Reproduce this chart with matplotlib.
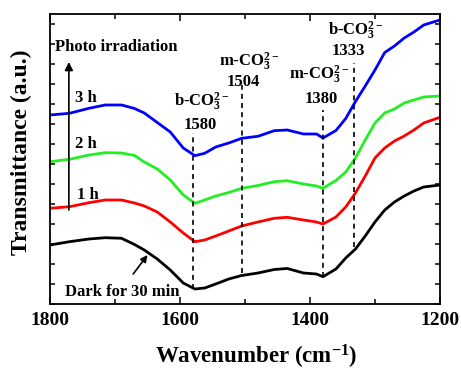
import matplotlib
matplotlib.use('Agg')
import matplotlib.pyplot as plt
from matplotlib.ticker import MultipleLocator, NullFormatter

plt.rcParams['font.family'] = 'Liberation Serif'
plt.rcParams['font.weight'] = 'bold'
plt.rcParams['axes.labelweight'] = 'bold'
plt.rcParams['mathtext.fontset'] = 'custom'
plt.rcParams['mathtext.rm'] = 'Liberation Serif:bold'
plt.rcParams['mathtext.it'] = 'Liberation Serif:bold:italic'
plt.rcParams['mathtext.bf'] = 'Liberation Serif:bold'
plt.rcParams['mathtext.default'] = 'rm'

# wavenumber grid (cm-1)
wn = [1800, 1770, 1740, 1715, 1690, 1670, 1655, 1635, 1615, 1595, 1577, 1562,
      1545, 1525, 1505, 1480, 1455, 1435, 1410, 1390, 1380, 1360, 1345, 1330,
      1315, 1300, 1285, 1270, 1255, 1240, 1225, 1200]

# offset spectra (a.u.)
dark = [2.95, 3.115, 3.25, 3.315, 3.285, 2.975, 2.7, 2.25, 1.7, 1.05, 0.75, 0.8,
        1.0, 1.25, 1.425, 1.55, 1.725, 1.775, 1.55, 1.5, 1.365, 1.75, 2.3, 2.75,
        3.4, 4.1, 4.7, 5.1, 5.4, 5.65, 5.85, 5.95]
h1 = [4.785, 4.865, 5.065, 5.2, 5.2, 5.05, 4.9, 4.6, 4.1, 3.55, 3.115, 3.2,
      3.4, 3.65, 3.9, 4.1, 4.285, 4.335, 4.2, 4.1, 4.0, 4.35, 4.85, 5.55,
      6.4, 7.3, 7.8, 8.15, 8.4, 8.7, 9.05, 9.335]
h2 = [7.115, 7.235, 7.45, 7.565, 7.55, 7.425, 7.1, 6.75, 6.2, 5.45, 5.035, 5.2,
      5.4, 5.575, 5.785, 5.925, 6.115, 6.165, 6.0, 5.9, 5.785, 6.175, 6.6, 7.3,
      8.2, 9.05, 9.55, 9.75, 10.05, 10.2, 10.35, 10.4]
h3 = [9.45, 9.535, 9.785, 9.95, 9.95, 9.775, 9.55, 9.075, 8.6, 7.8, 7.415, 7.535,
      7.85, 8.05, 8.285, 8.385, 8.665, 8.7, 8.5, 8.5, 8.3, 8.675, 9.275, 10.125,
      10.9, 11.7, 12.575, 12.9, 13.3, 13.6, 13.95, 14.2]

# band assignments
band_pos = [1580, 1504, 1380, 1333]
band_names = ['b-CO$_3^{2-}$', 'm-CO$_3^{2-}$', 'm-CO$_3^{2-}$', 'b-CO$_3^{2-}$']
band_top = [8.55, 10.95, 9.7, 12.05]
band_bottom = [0.75, 1.55, 1.365, 2.85]
name_xy = [(1567, 10.1), (1494, 12.1), (1386, 11.45), (1329, 13.65)]
num_xy = [(1569, 8.95), (1503, 11.1), (1383, 10.25), (1341, 12.65)]

fig = plt.figure(figsize=(4.61, 3.71), dpi=100)
ax = fig.add_axes([0.1085, 0.1806, 0.8459, 0.7817])

ax.plot(wn, dark, color='black', lw=2)
ax.plot(wn, h1, color='#ff0000', lw=2)
ax.plot(wn, h2, color='#22ee22', lw=2)
ax.plot(wn, h3, color='#0000ff', lw=2)

for p, t, b in zip(band_pos, band_top, band_bottom):
    ax.plot([p, p], [b, t], color='black', lw=1.2, ls=(0, (3, 2.5)))
for name, (x, y) in zip(band_names, name_xy):
    ax.text(x, y, name, ha='center', va='center', fontsize=12)
for p, (x, y) in zip(band_pos, num_xy):
    ax.text(x, y, str(p), ha='center', va='center', fontsize=12)

ax.text(1792, 12.85, 'Photo irradiation', ha='left', va='center', fontsize=12)
ax.annotate('', xy=(1771, 12.1), xytext=(1771, 4.7),
            arrowprops=dict(arrowstyle='-|>', color='black', lw=1.2,
                            mutation_scale=12, shrinkA=0, shrinkB=0))
ax.text(1761, 10.3, '3 h', ha='left', va='center', fontsize=12)
ax.text(1761, 8.0, '2 h', ha='left', va='center', fontsize=12)
ax.text(1758, 5.45, '1 h', ha='left', va='center', fontsize=12)
ax.text(1777, 0.6, 'Dark for 30 min', ha='left', va='center', fontsize=12)
ax.annotate('', xy=(1650, 2.45), xytext=(1672, 1.5),
            arrowprops=dict(arrowstyle='-|>', color='black', lw=1.2,
                            mutation_scale=10, shrinkA=0, shrinkB=0))

ax.set_xlim(1800, 1200)
ax.set_ylim(0, 14.5)
ax.xaxis.set_major_locator(MultipleLocator(200))
ax.xaxis.set_minor_locator(MultipleLocator(100))
ax.yaxis.set_major_locator(MultipleLocator(1))
ax.yaxis.set_major_formatter(NullFormatter())
ax.tick_params(axis='both', which='both', direction='in', top=True, right=True, width=1.1)
ax.tick_params(axis='x', which='major', length=5, labelsize=14, pad=6)
ax.tick_params(axis='x', which='minor', length=3.5)
ax.tick_params(axis='y', which='major', length=3.5)
for lab in ax.get_xticklabels():
    lab.set_fontweight('bold')
for s in ax.spines.values():
    s.set_linewidth(1.3)

ax.set_xlabel('Wavenumber (cm$^{-1}$)', fontsize=16.5)
ax.set_ylabel('Transmittance (a.u.)', fontsize=17)
ax.xaxis.set_label_coords(0.528, -0.135)
ax.yaxis.set_label_coords(-0.046, 0.524)

fig.savefig('out.png', dpi=100)
